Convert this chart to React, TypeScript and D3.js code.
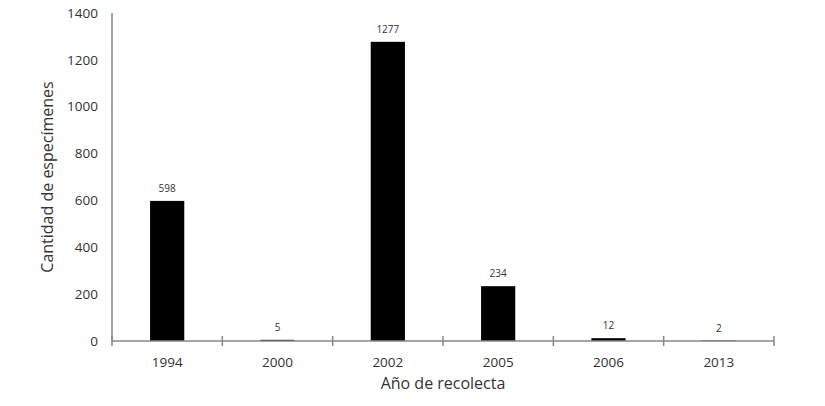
import React from "react";
import * as d3 from "d3";

const years = ["1994", "2000", "2002", "2005", "2006", "2013"];
const counts = [598, 5, 1277, 234, 12, 2];
const yTicks = [0, 200, 400, 600, 800, 1000, 1200, 1400];

const W = 825;
const H = 406;
const margin = { left: 112, right: 51, top: 13, bottom: 65 };
const FONT = "'Open Sans', sans-serif";

export default function App() {
  const x = d3
    .scaleBand<string>()
    .domain(years)
    .range([margin.left, W - margin.right])
    .paddingInner(0)
    .paddingOuter(0);
  const y = d3
    .scaleLinear()
    .domain([0, 1400])
    .range([H - margin.bottom, margin.top]);
  const bw = x.bandwidth() * 0.31;
  const base = y(0);
  const axisColor = "#878787";
  const textColor = "#333333";
  const boundaries = [...years.map((d) => x(d) as number), W - margin.right];

  return (
    <svg
      width={W}
      height={H}
      style={{ position: "absolute", left: 0, top: 0, background: "#fff" }}
    >
      {years.map((d, i) => {
        const cx = (x(d) as number) + x.bandwidth() / 2;
        return (
          <g key={d}>
            <rect
              x={cx - bw / 2}
              y={y(counts[i])}
              width={bw}
              height={Math.max(base - y(counts[i]), 0)}
              fill="#000"
            />
            <text
              x={cx}
              y={y(counts[i]) - 9}
              textAnchor="middle"
              fontFamily={FONT}
              fontSize={10}
              fill={textColor}
            >
              {counts[i]}
            </text>
            <text
              x={cx}
              y={base + 26}
              textAnchor="middle"
              fontFamily={FONT}
              fontSize={13.5}
              fill={textColor}
            >
              {d}
            </text>
          </g>
        );
      })}
      <line
        x1={margin.left}
        x2={margin.left}
        y1={margin.top}
        y2={base}
        stroke={axisColor}
        strokeWidth={1.5}
      />
      <line
        x1={margin.left}
        x2={W - margin.right}
        y1={base}
        y2={base}
        stroke={axisColor}
        strokeWidth={1.5}
      />
      {boundaries.map((bx, i) => (
        <line
          key={i}
          x1={bx}
          x2={bx}
          y1={base - 5}
          y2={base + 5}
          stroke={axisColor}
          strokeWidth={1.5}
        />
      ))}
      {yTicks.map((t) => (
        <text
          key={t}
          x={98}
          y={y(t)}
          dy="0.35em"
          textAnchor="end"
          fontFamily={FONT}
          fontSize={13.5}
          fill={textColor}
        >
          {t}
        </text>
      ))}
      <text
        x={(margin.left + W - margin.right) / 2}
        y={389}
        textAnchor="middle"
        fontFamily={FONT}
        fontSize={16}
        fill={textColor}
      >
        Año de recolecta
      </text>
      <text
        transform={`translate(53, ${(margin.top + base) / 2}) rotate(-90)`}
        textAnchor="middle"
        fontFamily={FONT}
        fontSize={16}
        fill={textColor}
      >
        Cantidad de especímenes
      </text>
    </svg>
  );
}
